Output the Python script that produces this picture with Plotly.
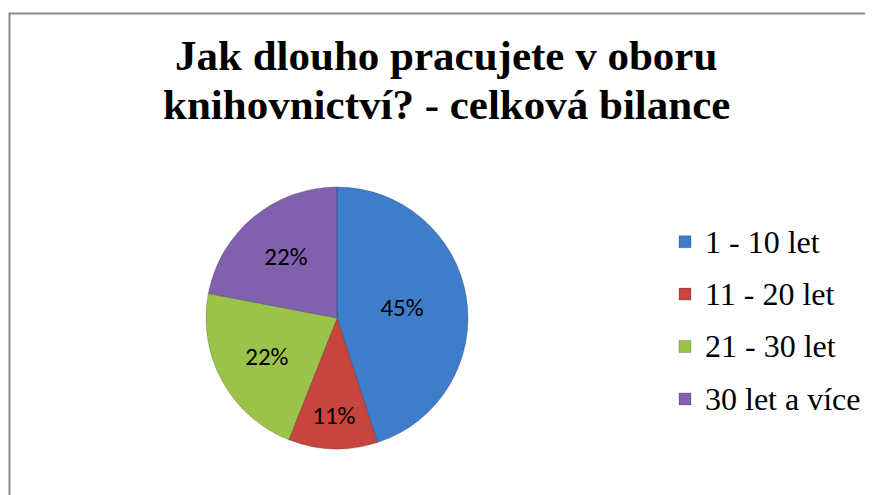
import plotly.graph_objects as go

W, H = 873, 495
OFF = 8  # default page body margin shifts the figure by 8px

categories = ["1 - 10 let", "11 - 20 let", "21 - 30 let", "30 let a více"]
values = [45, 11, 22, 22]
colors = ["#3D7DCA", "#C6463F", "#9BC34A", "#8160AE"]
title_lines = ["Jak dlouho pracujete v oboru", "knihovnictví? - celková bilance"]

legend_labels = [
    f"<span style='font-size:32px;baseline-shift:4px'>{c}</span>" for c in categories
]


def px(x):
    return (x - OFF) / W


def py(y):
    return 1 - (y - OFF) / H


fig = go.Figure(
    go.Pie(
        labels=legend_labels,
        values=values,
        sort=False,
        direction="clockwise",
        rotation=0,
        marker=dict(colors=colors, line=dict(color="rgba(0,0,0,0.2)", width=1)),
        texttemplate="%{percent:.0%}",
        textposition="inside",
        insidetextorientation="horizontal",
        textfont=dict(family="Carlito, Lato, Liberation Sans, sans-serif", size=25, color="black"),
        hoverinfo="percent",
        domain=dict(x=[px(206), px(468)], y=[py(449), py(187)]),
    )
)

for i, line in enumerate(title_lines):
    fig.add_annotation(
        text=f"<b>{line}</b>",
        x=px(446),
        y=py(56 + 48 * i),
        xref="paper",
        yref="paper",
        xanchor="center",
        yanchor="middle",
        showarrow=False,
        font=dict(family="Liberation Serif, Times New Roman, serif", size=43, color="black"),
    )

fig.add_shape(
    type="rect",
    xref="paper",
    yref="paper",
    x0=px(9.5),
    x1=1.05,
    y0=-0.05,
    y1=py(13.5),
    line=dict(color="#8A8A8A", width=2),
)

fig.update_layout(
    width=W,
    height=H,
    margin=dict(l=0, r=0, t=0, b=0),
    paper_bgcolor="white",
    plot_bgcolor="white",
    showlegend=True,
    legend=dict(
        x=px(665),
        y=py(320.5),
        xanchor="left",
        yanchor="middle",
        font=dict(family="Liberation Serif, Times New Roman, serif", size=38, color="black"),
        bgcolor="rgba(0,0,0,0)",
        itemclick=False,
    ),
)

fig.write_html("out.html")
